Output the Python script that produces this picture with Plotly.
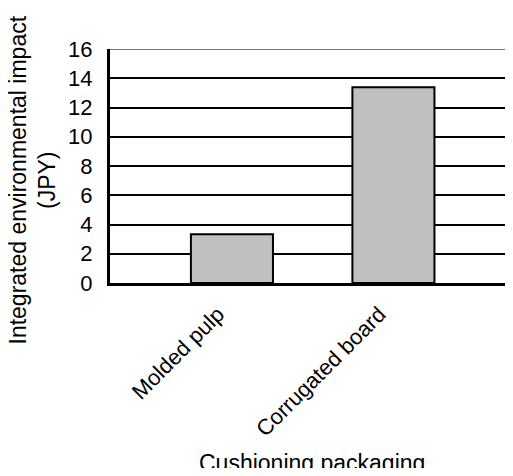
import plotly.graph_objects as go

categories = ["Molded pulp", "Corrugated board"]
values = [3.33, 13.38]
y_ticks = [0, 2, 4, 6, 8, 10, 12, 14, 16]

FONT = "Arial, 'Liberation Sans', sans-serif"

W, H = 513, 460
L, T, B = 102, 41, H - 275
PH = 275 - 41
PW = W - L

fig = go.Figure()
fig.add_trace(go.Bar(
    x=categories, y=values, width=0.508,
    marker=dict(color="#c0c0c0", line=dict(color="black", width=2)),
))

fig.update_layout(
    width=W, height=H,
    margin=dict(l=L, r=0, t=T, b=B, pad=0),
    paper_bgcolor="white", plot_bgcolor="white",
    showlegend=False,
    font=dict(family=FONT, color="black", size=22),
    xaxis=dict(
        type="category", range=[-0.755, -0.755 + PW / 161.5],
        showline=True, linecolor="black", linewidth=2.5,
        showgrid=False, ticks="", tickangle=-45,
        ticklabelstandoff=7, ticklabelshift=-14,
        tickfont=dict(size=22, family=FONT),
    ),
    yaxis=dict(
        range=[0, 16], tickvals=y_ticks, ticktext=[str(v) for v in y_ticks],
        showline=True, linecolor="black", linewidth=3,
        showgrid=True, gridcolor="black", gridwidth=2,
        ticks="", ticklabelstandoff=10,
        tickfont=dict(size=22, family=FONT), zeroline=False,
    ),
    shapes=[dict(type="line", xref="paper", yref="y", x0=0, x1=1, y0=16, y1=16,
                 line=dict(color="#777777", width=2), layer="above")],
    annotations=[
        dict(text="Integrated environmental impact<br>(JPY)", textangle=-90,
             xref="paper", yref="paper", x=(24.5 - L) / PW, y=(275 - 172) / PH,
             xanchor="center", yanchor="middle", showarrow=False,
             font=dict(size=23, family=FONT)),
        dict(text="Cushioning packaging", xref="paper", yref="paper",
             x=(303.5 - L) / PW, y=(275 - 455) / PH, xanchor="center", yanchor="middle",
             showarrow=False, font=dict(size=23, family=FONT)),
    ],
)

fig.write_html("out.html")
